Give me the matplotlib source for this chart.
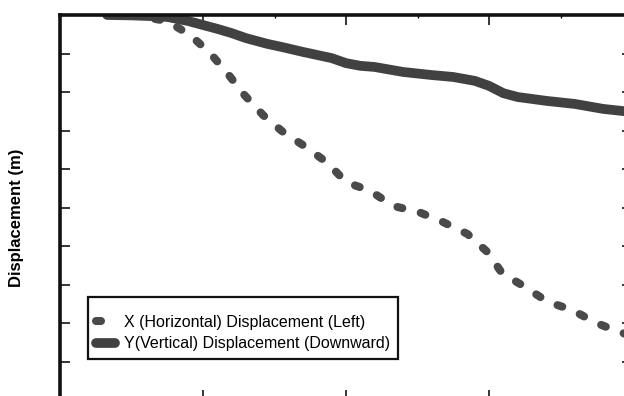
import matplotlib
matplotlib.use('Agg')
import matplotlib.pyplot as plt
from matplotlib.ticker import MultipleLocator, NullFormatter

plt.rcParams['font.family'] = ['Liberation Sans', 'DejaVu Sans']
plt.rcParams['lines.scale_dashes'] = False

# horizontal displacement (dashed)
x_h = [3.3, 5.6, 7.5, 9.1, 10.5, 11.7, 12.9, 14.2, 15.6, 17.2, 18.7, 20.0, 21.7,
       23.3, 25.1, 26.8, 28.5, 29.9, 30.9, 32.5, 34.1, 35.8, 37.5, 39.1, 40.0]
y_h = [0.0, -0.003, -0.016, -0.052, -0.099, -0.151, -0.208, -0.260, -0.304, -0.343,
       -0.384, -0.434, -0.457, -0.496, -0.512, -0.538, -0.569, -0.616, -0.670,
       -0.706, -0.745, -0.766, -0.800, -0.823, -0.834]

# vertical displacement (solid)
x_v = [3.3, 5, 6.5, 7.5, 9, 10, 11, 12, 13, 14.5, 15.5, 17, 18, 19, 20, 21, 22,
       24, 26, 27.5, 29, 30, 31, 32, 34, 36, 38, 40]
y_v = [0.0, -0.001, -0.003, -0.005, -0.016, -0.026, -0.036, -0.047, -0.060, -0.075,
       -0.083, -0.096, -0.104, -0.112, -0.125, -0.132, -0.135, -0.148, -0.156,
       -0.161, -0.171, -0.184, -0.203, -0.213, -0.223, -0.231, -0.244, -0.252]

LABEL_H = 'X (Horizontal) Displacement (Left)'
LABEL_V = 'Y(Vertical) Displacement (Downward)'

fig = plt.figure(figsize=(6.24, 3.96), dpi=100)
ax = fig.add_axes([60 / 624, -4 / 396, 572 / 624, 385 / 396])

ax.plot(x_h, y_h, color='#4a4a4a', lw=5.8, dashes=(3.6, 13.7),
        dash_capstyle='round', solid_capstyle='round', label=LABEL_H)
ax.plot(x_v, y_v, color='#414141', lw=7, solid_capstyle='round', label=LABEL_V)

ax.set_xlim(0, 40)
ax.set_ylim(-1.0, 0)
ax.xaxis.set_major_locator(MultipleLocator(10))
ax.xaxis.set_minor_locator(MultipleLocator(5))
ax.yaxis.set_major_locator(MultipleLocator(0.1))
ax.xaxis.set_major_formatter(NullFormatter())
ax.yaxis.set_major_formatter(NullFormatter())
ax.tick_params(which='major', direction='in', length=7, width=1.1,
               top=True, right=True, bottom=True, left=True)
ax.tick_params(which='minor', direction='in', length=2.5, width=1,
               top=True, bottom=True)
ax.tick_params(axis='y', which='minor', left=False, right=False)
for s in ax.spines.values():
    s.set_linewidth(2.6)
    s.set_color('#111111')

ax.set_ylabel('Displacement (m)', fontsize=12, fontweight='bold')
ax.yaxis.set_label_coords(-36 / 572, (400 - 218) / 385)

leg = ax.legend(loc='upper left', bbox_to_anchor=(88 / 624, 1 - 297 / 396),
                bbox_transform=fig.transFigure, fontsize=11.5, frameon=True,
                fancybox=False, framealpha=1, edgecolor='#111111',
                handlelength=1.2, handletextpad=0.55, borderpad=0.5,
                labelspacing=0.38, borderaxespad=0,
                title=' ', title_fontsize=3)
leg.get_frame().set_linewidth(1.6)

fig.savefig('out.png', dpi=100)
